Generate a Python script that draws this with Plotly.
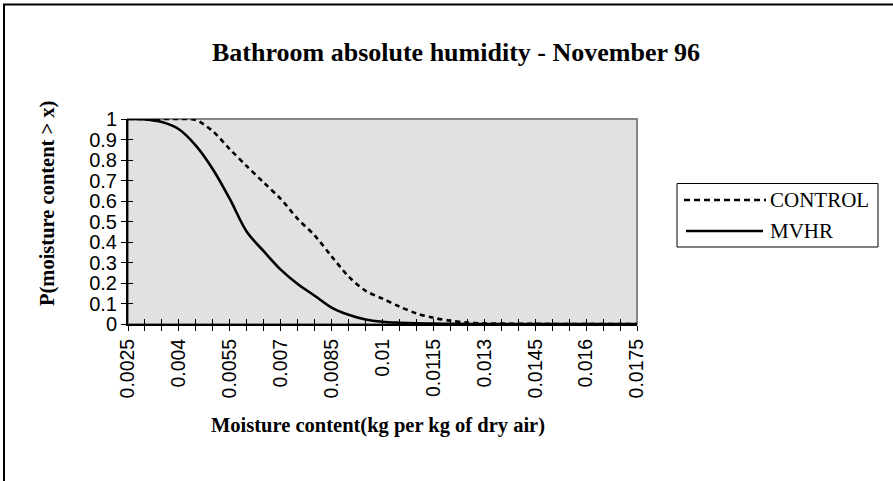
import plotly.graph_objects as go

# Moisture content categories (kg per kg of dry air)
moisture = [0.0025, 0.003, 0.0035, 0.004, 0.0045, 0.005, 0.0055, 0.006, 0.0065, 0.007,
            0.0075, 0.008, 0.0085, 0.009, 0.0095, 0.01, 0.0105, 0.011, 0.0115, 0.012,
            0.0125, 0.013, 0.0135, 0.014, 0.0145, 0.015, 0.0155, 0.016, 0.0165, 0.017,
            0.0175]

# Exceedance probability P(moisture content > x)
control = [1.0, 1.0, 1.0, 1.0, 0.995, 0.94, 0.853, 0.77, 0.69, 0.61,
           0.513, 0.432, 0.33, 0.232, 0.162, 0.124, 0.085, 0.052, 0.03, 0.016,
           0.007, 0.003, 0.002, 0.001, 0.001, 0.0, 0.0, 0.0, 0.0, 0.0,
           0.0]
mvhr = [1.0, 0.998, 0.985, 0.95, 0.87, 0.755, 0.61, 0.45, 0.355, 0.265,
        0.195, 0.138, 0.08, 0.045, 0.022, 0.011, 0.006, 0.003, 0.002, 0.001,
        0.0, 0.0, 0.0, 0.0, 0.0, 0.0, 0.0, 0.0, 0.0, 0.0,
        0.0]

x_labels = ["0.0025", "0.004", "0.0055", "0.007", "0.0085", "0.01",
            "0.0115", "0.013", "0.0145", "0.016", "0.0175"]
y_ticks = [0, 0.1, 0.2, 0.3, 0.4, 0.5, 0.6, 0.7, 0.8, 0.9, 1]

W, H = 893, 481
L, R, T, B = 128, 637, 119, 324  # plot area in pixels

def px(xp):
    return (xp - L) / (R - L)

def py(yp):
    return (B - yp) / (B - T)

# every third category carries a label
tick_text = []
for i, v in enumerate(moisture):
    tick_text.append(x_labels[i // 3] if i % 3 == 0 else "")

SERIF = "Liberation Serif"
SANS = "Liberation Sans"

fig = go.Figure()
fig.add_trace(go.Scatter(
    x=moisture, y=control, mode="lines", name="CONTROL",
    line=dict(color="black", width=2.6, dash="5px,4px", shape="spline", smoothing=0.9),
    showlegend=False, xaxis="x", yaxis="y"))
fig.add_trace(go.Scatter(
    x=moisture, y=mvhr, mode="lines", name="MVHR",
    line=dict(color="black", width=2.6, shape="spline", smoothing=0.9),
    showlegend=False, xaxis="x2", yaxis="y2"))

axis_common = dict(showgrid=False, zeroline=False, ticklen=5, tickwidth=1, tickcolor="black")

fig.update_layout(
    width=W, height=H,
    margin=dict(l=L, r=W - R, t=T, b=H - B, pad=0),
    paper_bgcolor="white",
    plot_bgcolor="#e1e1e1",
    xaxis=dict(range=[0.0025, 0.0175], tickmode="array", tickvals=moisture, ticktext=tick_text,
               ticks="outside", tickangle=-90, showline=True, linecolor="black", linewidth=2,
               tickfont=dict(family=SANS, size=19.5, color="black"), **axis_common),
    yaxis=dict(range=[0, 1], tickmode="array", tickvals=y_ticks, ticks="outside",
               showline=True, linecolor="black", linewidth=2,
               tickfont=dict(family=SANS, size=20, color="black"), **axis_common),
    xaxis2=dict(range=[0.0025, 0.0175], overlaying="x", tickmode="array", tickvals=moisture,
                ticks="inside", showticklabels=False, showline=False, **axis_common),
    yaxis2=dict(range=[0, 1], overlaying="y", tickmode="array", tickvals=y_ticks,
                ticks="inside", showticklabels=False, showline=False, **axis_common),
    showlegend=False,
)

shapes = [
    # plot-area frame (top/right edges visible in grey)
    dict(type="rect", xref="paper", yref="paper", x0=0, x1=1, y0=0, y1=1,
         line=dict(color="#858585", width=2), layer="below"),
    # outer chart frame
    dict(type="rect", xref="paper", yref="paper", x0=px(4), x1=px(900), y0=py(490), y1=py(4.5),
         line=dict(color="black", width=2)),
    # legend box
    dict(type="rect", xref="paper", yref="paper", x0=px(677), x1=px(878), y0=py(247), y1=py(183.5),
         line=dict(color="black", width=1), fillcolor="white"),
    # legend samples
    dict(type="line", xref="paper", yref="paper", x0=px(684), x1=px(766), y0=py(200), y1=py(200),
         line=dict(color="black", width=2.6, dash="6px,4px")),
    dict(type="line", xref="paper", yref="paper", x0=px(686), x1=px(763), y0=py(231), y1=py(231),
         line=dict(color="black", width=2.6)),
]

annotations = [
    dict(text="<b>Bathroom absolute humidity - November 96</b>", x=px(456), y=py(53),
         xref="paper", yref="paper", showarrow=False, xanchor="center", yanchor="middle",
         font=dict(family=SERIF, size=26, color="black")),
    dict(text="<b>P(moisture content > x)</b>", x=px(47), y=py(204), textangle=-90,
         xref="paper", yref="paper", showarrow=False, xanchor="center", yanchor="middle",
         font=dict(family=SERIF, size=20.5, color="black")),
    dict(text="<b>Moisture content(kg per kg of dry air)</b>", x=px(378), y=py(425),
         xref="paper", yref="paper", showarrow=False, xanchor="center", yanchor="middle",
         font=dict(family=SERIF, size=20.5, color="black")),
    dict(text="CONTROL", x=px(768), y=py(200), xref="paper", yref="paper", showarrow=False,
         xanchor="left", yanchor="middle", font=dict(family=SERIF, size=21, color="black")),
    dict(text="MVHR", x=px(768), y=py(231), xref="paper", yref="paper", showarrow=False,
         xanchor="left", yanchor="middle", font=dict(family=SERIF, size=21, color="black")),
]

fig.update_layout(shapes=shapes, annotations=annotations)
fig.write_html("out.html")
